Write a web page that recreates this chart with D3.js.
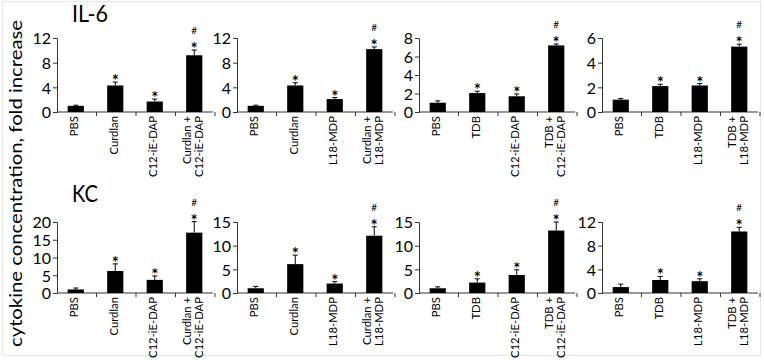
<!DOCTYPE html>
<html>
<head>
<meta charset="utf-8">
<script src="https://cdn.jsdelivr.net/npm/d3@7"></script>
<style>
  body { margin: 0; background: #fff; }
  text { font-family: Lato, "Open Sans", sans-serif; fill: #000; }
</style>
</head>
<body>
<div id="chart"></div>
<script>
// categories per panel ("\n" splits a label into two columns)
var catsA = ["PBS", "Curdlan", "C12-iE-DAP", "Curdlan +\nC12-iE-DAP"];
var catsB = ["PBS", "Curdlan", "L18-MDP", "Curdlan +\nL18-MDP"];
var catsC = ["PBS", "TDB", "C12-iE-DAP", "TDB +\nC12-iE-DAP"];
var catsD = ["PBS", "TDB", "L18-MDP", "TDB +\nL18-MDP"];
var panelCats = [catsA, catsB, catsC, catsD];

// IL-6 fold increase, mean and upper error
var il6Values = [[1.0, 4.3, 1.7, 9.2], [1.0, 4.3, 2.1, 10.2], [1.0, 2.05, 1.7, 7.2], [1.0, 2.1, 2.15, 5.3]];
var il6Errors = [[0.1, 0.55, 0.4, 0.85], [0.1, 0.45, 0.25, 0.35], [0.2, 0.2, 0.25, 0.15], [0.1, 0.15, 0.15, 0.2]];
var il6Ticks = [[0, 4, 8, 12], [0, 4, 8, 12], [0, 2, 4, 6, 8], [0, 2, 4, 6]];

// KC fold increase
var kcValues = [[1.0, 6.2, 3.7, 17.0], [1.0, 6.1, 2.0, 12.1], [1.0, 2.2, 3.8, 13.2], [1.0, 2.2, 2.0, 10.4]];
var kcErrors = [[0.4, 2.0, 1.1, 3.1], [0.4, 1.9, 0.4, 1.9], [0.3, 0.8, 1.1, 1.8], [0.5, 0.6, 0.4, 0.7]];
var kcTicks = [[0, 5, 10, 15, 20], [0, 5, 10, 15], [0, 5, 10, 15], [0, 4, 8, 12]];

// significance marks per category
var starMarks = [false, true, true, true];
var hashMarks = [false, false, false, true];

var rowTitles = ["IL-6", "KC"];

var largura = 764, altura = 360;
var panelLeft = [57, 237, 419, 602];
var panelW = 156;
var rows = [
  { title: rowTitles[0], values: il6Values, errors: il6Errors, ticks: il6Ticks, top: 38, bottom: 112, titleY: 22 },
  { title: rowTitles[1], values: kcValues, errors: kcErrors, ticks: kcTicks, top: 222, bottom: 293, titleY: 202 }
];

var svg = d3.select("#chart").append("svg")
  .attr("width", largura)
  .attr("height", altura);

svg.append("rect").attr("width", largura).attr("height", altura).attr("fill", "#fff");
svg.append("rect").attr("x", 2.5).attr("y", 1.5).attr("width", 758).attr("height", 354)
  .attr("fill", "none").attr("stroke", "#e6e6e6");

// y axis title
svg.append("text")
  .attr("transform", "translate(22,183.5) rotate(-90)")
  .attr("text-anchor", "middle")
  .attr("font-size", 18)
  .attr("textLength", 327)
  .attr("lengthAdjust", "spacingAndGlyphs")
  .text("cytokine concentration, fold increase");

rows.forEach(function (row) {
  svg.append("text")
    .attr("x", 72)
    .attr("y", row.titleY)
    .attr("font-size", 23)
    .attr("textLength", row.title == "KC" ? 26 : 36)
    .attr("lengthAdjust", "spacingAndGlyphs")
    .text(row.title);

  panelCats.forEach(function (cats, p) {
    var g = svg.append("g").attr("transform", "translate(" + panelLeft[p] + ",0)");
    var ticks = row.ticks[p];
    var yScale = d3.scaleLinear().domain([0, ticks[ticks.length - 1]]).range([row.bottom, row.top]);
    var xScale = d3.scaleBand().domain(cats).range([0, panelW]).paddingInner(0.59).paddingOuter(0.27);
    var step = xScale.step();
    var vals = row.values[p], errs = row.errors[p];

    // y axis
    var yAxis = d3.axisLeft(yScale).tickValues(ticks).tickSize(4).tickPadding(2).tickFormat(d3.format("d"));
    var yAxisG = g.append("g").call(yAxis);
    yAxisG.select(".domain").attr("stroke", "#333");
    yAxisG.selectAll(".tick line").attr("stroke", "#333");
    yAxisG.selectAll(".tick text").attr("font-size", 16).attr("font-family", "Lato, sans-serif").attr("dy", "0.36em");

    // x axis line and ticks at band boundaries
    g.append("line").attr("x1", 0).attr("x2", panelW)
      .attr("y1", row.bottom).attr("y2", row.bottom).attr("stroke", "#333");
    g.selectAll(".xtick").data(cats).enter().append("line")
      .attr("x1", function (d, i) { return (i + 1) * step; })
      .attr("x2", function (d, i) { return (i + 1) * step; })
      .attr("y1", row.bottom).attr("y2", row.bottom + 4)
      .attr("stroke", "#333");

    // error bars
    g.selectAll(".err").data(cats).enter().append("line")
      .attr("x1", function (d) { return xScale(d) + xScale.bandwidth() / 2; })
      .attr("x2", function (d) { return xScale(d) + xScale.bandwidth() / 2; })
      .attr("y1", function (d, i) { return yScale(vals[i]); })
      .attr("y2", function (d, i) { return yScale(vals[i] + errs[i]); })
      .attr("stroke", "#000").attr("stroke-width", 1);
    g.selectAll(".cap").data(cats).enter().append("line")
      .attr("x1", function (d) { return xScale(d) + xScale.bandwidth() / 2 - 2.5; })
      .attr("x2", function (d) { return xScale(d) + xScale.bandwidth() / 2 + 2.5; })
      .attr("y1", function (d, i) { return yScale(vals[i] + errs[i]); })
      .attr("y2", function (d, i) { return yScale(vals[i] + errs[i]); })
      .attr("stroke", "#000").attr("stroke-width", 1);

    // bars
    g.selectAll(".bar").data(cats).enter().append("rect")
      .attr("x", function (d) { return xScale(d); })
      .attr("width", xScale.bandwidth())
      .attr("y", function (d, i) { return yScale(vals[i]); })
      .attr("height", function (d, i) { return row.bottom - yScale(vals[i]); })
      .attr("fill", "#000");

    // stars and hashes
    cats.forEach(function (c, i) {
      var cx = xScale(c) + xScale.bandwidth() / 2;
      var topY = yScale(vals[i] + errs[i]);
      if (starMarks[i]) {
        g.append("text").attr("x", cx).attr("y", topY + 5)
          .attr("text-anchor", "middle").attr("font-family", "'Open Sans', sans-serif")
          .attr("font-size", 17).attr("font-weight", 600).text("*");
      }
      if (hashMarks[i]) {
        g.append("text").attr("x", cx).attr("y", topY - 16)
          .attr("text-anchor", "middle").attr("font-family", "'Open Sans', sans-serif")
          .attr("font-size", 10).text("#");
      }
    });

    // rotated category labels
    cats.forEach(function (c, i) {
      var cx = xScale(c) + xScale.bandwidth() / 2 - 1.5;
      var lines = c.split("\n");
      var t = g.append("text")
        .attr("transform", "translate(" + cx + "," + (row.bottom + 4) + ") rotate(-90)")
        .attr("text-anchor", "end")
        .attr("font-size", 11.3);
      lines.forEach(function (ln, k) {
        var off = (k - (lines.length - 1) / 2) * 12;
        t.append("tspan").attr("x", 0).attr("y", off).attr("dy", "0.35em").text(ln);
      });
    });
  });
});
</script>
</body>
</html>
